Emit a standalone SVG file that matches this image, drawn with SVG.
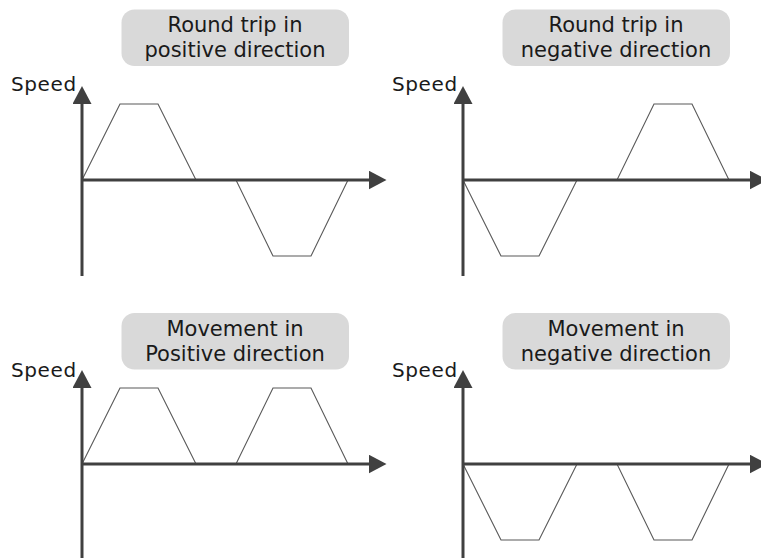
<svg xmlns="http://www.w3.org/2000/svg" width="761" height="558" viewBox="0 0 761 558">
  <style>
    .lbl { fill: #d9d9d9; stroke: none; }
    .title { font-family: "DejaVu Sans", Verdana, sans-serif; font-size: 21px; fill: #1a1a1a; text-anchor: middle; }
    .spd { font-family: "DejaVu Sans", Verdana, sans-serif; font-size: 20px; letter-spacing: 0.6px; fill: #1a1a1a; }
    .axis { stroke: #404040; stroke-width: 3; fill: none; marker-end: url(#arr); }
    .wave { stroke: #595959; stroke-width: 1.1; fill: none; stroke-linejoin: miter; }
  </style>
  <defs>
    <marker id="arr" viewBox="0 0 18 19" markerWidth="18" markerHeight="19" refX="1" refY="9.5" orient="auto" markerUnits="userSpaceOnUse">
      <path d="M0,0 L18,9.5 L0,19 z" fill="#404040"/>
    </marker>
  </defs>
  <rect width="761" height="558" fill="#ffffff"/>

  <!-- Panel 1: round trip positive -->
  <g id="label-round-positive">
    <rect class="lbl" x="121.5" y="9.5" width="227.5" height="56.5" rx="13"/>
    <text class="title" x="235" y="32">Round trip in</text>
    <text class="title" x="235" y="57">positive direction</text>
  </g>
  <g id="chart-round-positive">
    <text class="spd" x="11" y="90.5">Speed</text>
    <path class="wave" d="M82,180 L120,104 L158,104 L196,180 L236,180 L273,256 L311,256 L348,180"/>
  </g>

  <!-- Panel 2: round trip negative -->
  <g id="label-round-negative">
    <rect class="lbl" x="502.5" y="9.5" width="227.5" height="56.5" rx="13"/>
    <text class="title" x="616" y="32">Round trip in</text>
    <text class="title" x="616" y="57">negative direction</text>
  </g>
  <g id="chart-round-negative">
    <text class="spd" x="392" y="90.5">Speed</text>
    <path class="wave" d="M463,180 L501,256 L539,256 L577,180 L617,180 L654,104 L692,104 L729,180"/>
  </g>

  <!-- Panel 3: movement positive -->
  <g id="label-move-positive">
    <rect class="lbl" x="121.5" y="313" width="227.5" height="56.5" rx="13"/>
    <text class="title" x="235" y="335.5">Movement in</text>
    <text class="title" x="235" y="361">Positive direction</text>
  </g>
  <g id="chart-move-positive">
    <text class="spd" x="11" y="377">Speed</text>
    <path class="wave" d="M82,464 L120,388 L158,388 L196,464 L236,464 L273,388 L311,388 L348,464"/>
  </g>

  <!-- Panel 4: movement negative -->
  <g id="label-move-negative">
    <rect class="lbl" x="502.5" y="313" width="227.5" height="56.5" rx="13"/>
    <text class="title" x="616" y="335.5">Movement in</text>
    <text class="title" x="616" y="361">negative direction</text>
  </g>
  <g id="chart-move-negative">
    <text class="spd" x="392" y="377">Speed</text>
    <path class="wave" d="M463,464 L501,540 L539,540 L577,464 L617,464 L654,540 L692,540 L729,464"/>
  </g>

  <!-- Axes -->
  <g id="connectors">
    <line class="axis" x1="82" y1="276" x2="82" y2="103"/>
    <line class="axis" x1="82" y1="180" x2="369.5" y2="180"/>
    <line class="axis" x1="463" y1="276" x2="463" y2="103"/>
    <line class="axis" x1="463" y1="180" x2="750.5" y2="180"/>
    <line class="axis" x1="82" y1="558" x2="82" y2="387"/>
    <line class="axis" x1="82" y1="464" x2="369.5" y2="464"/>
    <line class="axis" x1="463" y1="558" x2="463" y2="387"/>
    <line class="axis" x1="463" y1="464" x2="750.5" y2="464"/>
  </g>
</svg>
